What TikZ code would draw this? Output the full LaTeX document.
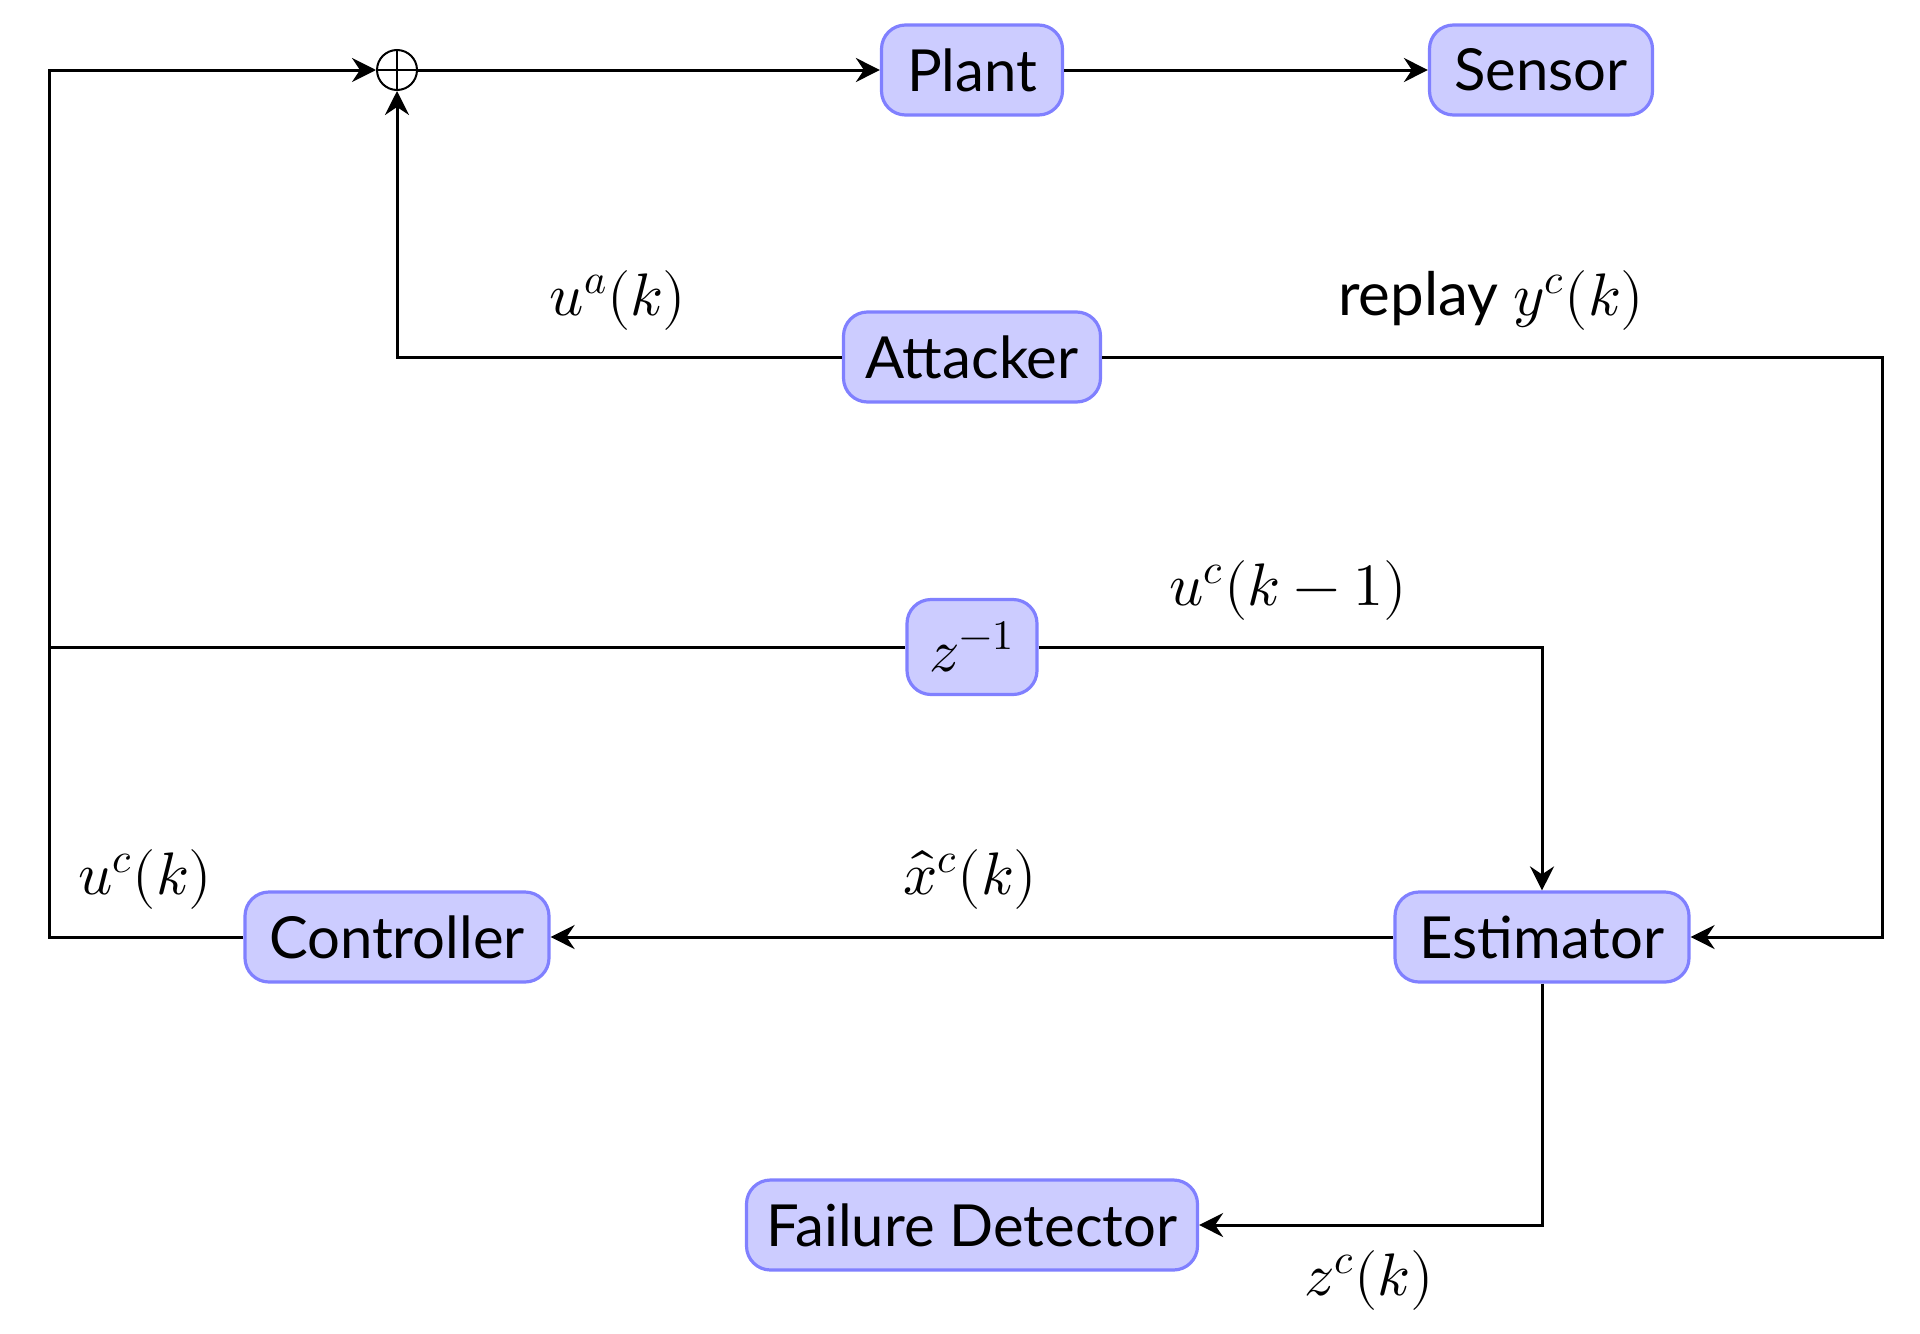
\documentclass[tikz,border=0pt]{standalone}
\usepackage{fontspec}
\usepackage{unicode-math}
\setmainfont{Lato}
\setmathfont{Latin Modern Math}
\usetikzlibrary{arrows.meta}
\begin{document}
\begin{tikzpicture}[x=0.5pt,y=-0.5pt,
 box/.style={draw=blue!50, fill=blue!20, line width=1.6pt, rounded corners=12pt, minimum height=45pt, inner sep=0pt, font=\fontsize{29}{35}\selectfont},
 conn/.style={line width=1.5pt, -{Stealth[length=12pt,width=12pt,inset=4pt]}},
 plainline/.style={line width=1.5pt},
 lbl/.style={font=\fontsize{30}{36}\selectfont, inner sep=0pt},
 sumnode/.style={circle, draw, line width=1pt, minimum size=20pt, inner sep=0pt,
   path picture={\draw[line width=1pt] (path picture bounding box.north) -- (path picture bounding box.south)
     (path picture bounding box.west) -- (path picture bounding box.east);}}]
\useasboundingbox (0,0) rectangle (1920,1333);
\node[box, minimum width=90.5pt] (plant) at (972,70) {Plant};
\node[box, minimum width=111.5pt] (sensor) at (1541,70) {Sensor};
\node[sumnode] (sum) at (397,70) {};
\node[box, minimum width=128.5pt] (att) at (972,357) {Attacker};
\node[box, minimum width=65pt, minimum height=47.5pt, font=\fontsize{30}{36}\selectfont] (delay) at (972,647) {$z^{-1}$};
\node[box, minimum width=147pt] (est) at (1542,937) {Estimator};
\node[box, minimum width=152pt] (ctrl) at (397,937) {Controller};
\node[box, minimum width=225.5pt] (fd) at (972,1225) {Failure Detector};
\coordinate (lb) at (49,937);
\coordinate (lt) at (49,70);
\coordinate (lm) at (49,647);
\coordinate (ar) at (1882,357);
\draw[conn] (ctrl.west) -- (lb) -- (lt) -- (sum.west);
\draw[plainline] (lm) -- (delay.west);
\draw[conn] (delay.east) -| (est.north);
\draw[conn] (sum.east) -- (plant.west);
\draw[conn] (plant) -- (sensor);
\draw[conn] (att.west) -| (sum.south);
\draw[conn] (att.east) -- (ar) |- (est.east);
\draw[conn] (est.west) -- (ctrl.east);
\draw[conn] (est.south) |- (fd.east);
\node[lbl] (l1) at (618,300) {$u^a(k)$};
\node[lbl] (l2) at (1491,300) {replay $y^c(k)$};
\node[lbl] (l3) at (1288,590) {$u^c(k-1)$};
\node[lbl] (l4) at (145,879) {$u^c(k)$};
\node[lbl] (l5) at (970,879) {$\widehat{x}^c(k)$};
\node[lbl] (l6) at (1369,1280) {$z^c(k)$};
\end{tikzpicture}
\end{document}
